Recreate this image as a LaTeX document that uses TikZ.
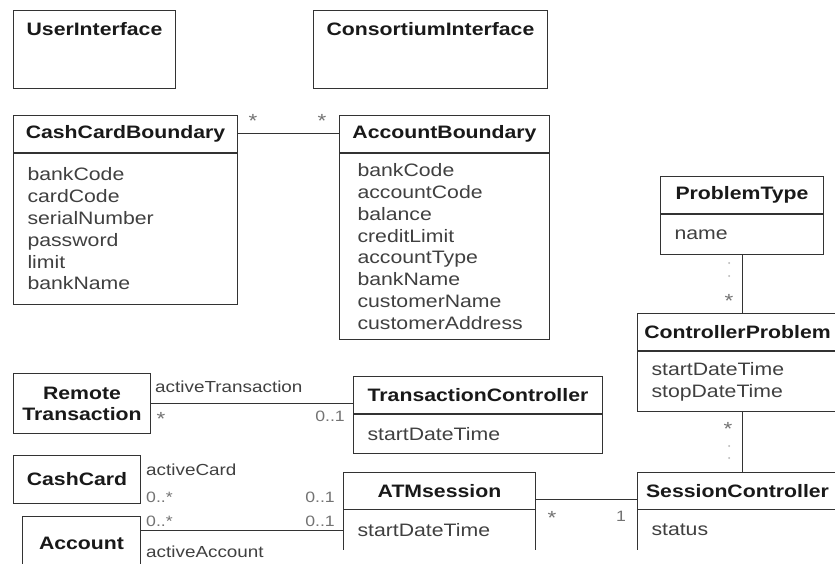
\documentclass[tikz,border=0pt]{standalone}
\usepackage{fontspec}
\setmainfont{Liberation Sans}[FakeStretch=1.18]
\usetikzlibrary{positioning,calc}

\begin{document}
\begin{tikzpicture}[
    x=1pt, y=-1pt,
    classbox/.style={rectangle, draw=black!80, line width=1pt, inner sep=0pt, anchor=north west},
    classname/.style={rectangle, inner sep=0pt, minimum height=37pt, font=\fontsize{18}{21}\selectfont\bfseries, text=black!90},
    attrs/.style={rectangle, inner ysep=0pt, inner xsep=14pt, align=left, font=\fontsize{18}{21.8}\selectfont, text=black!75},
    assoc/.style={draw=black!80, line width=1pt},
    role/.style={inner sep=0pt, font=\fontsize{16}{18}\selectfont, text=black!75},
    mult/.style={inner sep=0pt, font=\fontsize{15}{17}\selectfont, text=black!55},
    star/.style={mult, font=\fontsize{19}{21}\selectfont},
    speck/.style={fill=black!30, circle, inner sep=0pt, minimum size=2pt}
]
\useasboundingbox (0,0) rectangle (835,564);
\fill[white] (0,0) rectangle (835,564);

% interfaces
\node[classbox, minimum width=162pt, minimum height=78pt] (ui) at (13,10) {};
\node[classname, below=0pt of ui.north] (uiname) {UserInterface};
\node[classbox, minimum width=234pt, minimum height=78pt] (ci) at (313,10) {};
\node[classname, below=0pt of ci.north] (ciname) {ConsortiumInterface};

% boundaries
\node[classname, classbox, minimum width=224pt] (ccb) at (13,115) {CashCardBoundary};
\node[attrs, draw=black!80, line width=1pt, text width=196pt, minimum height=151pt, below=0pt of ccb] (ccbattr)
    {bankCode\\cardCode\\serialNumber\\password\\limit\\bankName};
\node[classname, classbox, minimum width=210pt] (ab) at (339,115) {AccountBoundary};
\node[attrs, draw=black!80, line width=1pt, inner xsep=18pt, text width=174pt, minimum height=186pt, below=0pt of ab] (abattr)
    {bankCode\\accountCode\\balance\\creditLimit\\accountType\\bankName\\customerName\\customerAddress};

% problems
\node[classname, classbox, minimum width=163pt] (pt) at (660,176) {ProblemType};
\node[attrs, draw=black!80, line width=1pt, text width=135pt, minimum height=40pt, below=0pt of pt] (ptattr) {name};
\node[classname, classbox, minimum width=200pt] (cp) at (637,313) {ControllerProblem};
\node[attrs, draw=black!80, line width=1pt, text width=172pt, minimum height=60pt, below=0pt of cp] (cpattr)
    {startDateTime\\stopDateTime};

% controllers
\node[classname, classbox, minimum width=249pt] (tc) at (353,376) {TransactionController};
\node[attrs, draw=black!80, line width=1pt, text width=221pt, minimum height=39pt, below=0pt of tc] (tcattr) {startDateTime};
\node[classname, classbox, minimum width=192pt] (atm) at (343,472) {ATMsession};
\node[attrs, text width=164pt, minimum height=40pt, below=0pt of atm] (atmattr) {startDateTime};
\draw[assoc] (atmattr.north west) -- (atmattr.south west);
\draw[assoc] (atmattr.north east) -- (atmattr.south east);
\node[classname, classbox, minimum width=200pt] (sc) at (637,472) {SessionController};
\node[attrs, text width=172pt, minimum height=40pt, below=0pt of sc] (scattr) {status};
\draw[assoc] (scattr.north west) -- (scattr.south west);

% entities
\node[classname, classbox, align=center, minimum width=137pt, minimum height=60pt] (rt) at (13,373) {Remote\\Transaction};
\node[classname, classbox, minimum width=127pt, minimum height=48pt] (cc) at (13,455) {CashCard};
\node[classname, classbox, minimum width=118pt, minimum height=54pt] (acc) at (22,516) {Account};

% associations
\draw[assoc] (ccb.east) -- (ab.west);
\node[star] (m1) at (253,121) {*};
\node[star] (m2) at (322,121) {*};

\draw[assoc] (rt.east) -- (rt.east -| tc.west);
\node[role, anchor=west] (r1) at (155,387) {activeTransaction};
\node[star] (m3) at (161,419) {*};
\node[mult, anchor=east] (m4) at (345,416) {0..1};

\node[role, anchor=west] (r2) at (146,470) {activeCard};
\node[mult, anchor=west] (m5) at (146,497) {0..*};
\node[mult, anchor=east] (m6) at (335,497) {0..1};

\draw[assoc] (acc.east |- atmattr.west) -- (atmattr.west);
\node[mult, anchor=west] (m7) at (146,521) {0..*};
\node[mult, anchor=east] (m8) at (335,521) {0..1};
\node[role, anchor=west] (r3) at (146,552) {activeAccount};

\draw[assoc] ([yshift=-8pt]atm.east) -- ([yshift=-8pt]atm.east -| sc.west);
\node[star] (m9) at (552,518) {*};
\node[mult] (m10) at (621,516) {1};

\draw[assoc] (ptattr.south -| pt.south) -- (cp.north -| pt.south);
\node[speck] (d1) at (729,263) {};
\node[speck] (d2) at (729,276) {};
\node[star] (m11) at (729,301) {*};

\draw[assoc] (cpattr.south -| pt.south) -- (sc.north -| pt.south);
\node[star] (m12) at (728,429) {*};
\node[speck] (d3) at (729,446) {};
\node[speck] (d4) at (729,458) {};
\end{tikzpicture}
\end{document}
